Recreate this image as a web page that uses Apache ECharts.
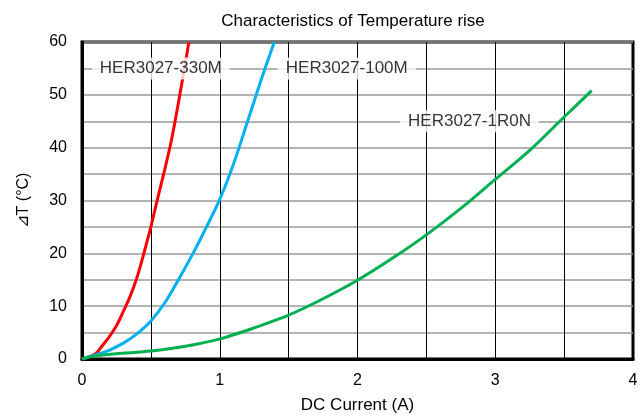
<!DOCTYPE html>
<html>
<head>
<meta charset="utf-8">
<script src="https://cdn.jsdelivr.net/npm/echarts@6/dist/echarts.min.js"></script>
<style>
html,body{margin:0;padding:0;background:#fff;}
#chart{width:644px;height:419px;}
</style>
</head>
<body>
<div id="chart"></div>
<script>
// Data: [current A, temperature rise °C]
const red330M = [[0,0],[0.05,0.4],[0.1,1.0],[0.15,2.6],[0.2,4.3],[0.25,6.3],[0.3,9.0],[0.35,11.9],[0.4,15.5],[0.45,20.1],[0.5,25],[0.55,30.5],[0.6,35.8],[0.65,41.5],[0.7,48.5],[0.75,56],[0.776,60]];
const blue100M = [[0,0],[0.1,0.8],[0.2,1.7],[0.3,3.0],[0.4,4.8],[0.5,7.2],[0.6,10.6],[0.7,15.0],[0.8,19.7],[0.9,24.8],[1.0,30.2],[1.1,36.9],[1.2,44.8],[1.3,52.8],[1.396,60]];
const green1R0N = [[0,0],[0.05,0.35],[0.1,0.6],[0.25,1.0],[0.5,1.5],[0.75,2.4],[1,3.8],[1.25,5.9],[1.5,8.3],[1.75,11.4],[2,14.9],[2.25,19],[2.5,23.5],[2.75,28.5],[3,34],[3.25,39.5],[3.5,45.8],[3.7,50.8]];
const seriesNames = ['HER3027-330M','HER3027-100M','HER3027-1R0N'];
const labelX = [0.572, 1.922, 2.813];
const labelY = [55, 55, 45];
const titleText = 'Characteristics of Temperature rise';
const xName = 'DC Current (A)';
const yName = '⊿T (°C)';

const font = 'Liberation Sans, Arial, sans-serif';
const chart = echarts.init(document.getElementById('chart'));
chart.setOption({
  animation: false,
  backgroundColor: '#fff',
  title: {
    text: titleText, left: 348, textAlign: 'center', top: 8,
    textStyle: {fontFamily: font, fontSize: 17, fontWeight: 'normal', color: '#000'}
  },
  grid: {left: 82, right: 11, top: 42, bottom: 54, show: true, borderColor: '#000', borderWidth: 3, backgroundColor: 'transparent'},
  xAxis: {
    type: 'value', min: 0, max: 4, interval: 0.5,
    name: xName, nameLocation: 'middle', nameGap: 38,
    nameTextStyle: {fontFamily: font, fontSize: 17, color: '#000'},
    axisLine: {show: true, lineStyle: {color: '#000', width: 3}},
    axisTick: {show: false},
    axisLabel: {margin: 14, fontFamily: font, fontSize: 16, color: '#000',
      formatter: v => (Math.abs(v - Math.round(v)) < 1e-9 ? String(Math.round(v)) : '')},
    splitLine: {show: true, lineStyle: {color: '#000', width: 1}}
  },
  yAxis: {
    type: 'value', min: 0, max: 60, interval: 5,
    name: yName, nameLocation: 'middle', nameGap: 50, nameRotate: 90,
    nameTextStyle: {fontFamily: font, fontSize: 16, color: '#000'},
    axisLine: {show: true, lineStyle: {color: '#000', width: 3}},
    axisTick: {show: false},
    axisLabel: {margin: 15, fontFamily: font, fontSize: 16, color: '#000',
      formatter: v => (v % 10 === 0 ? String(v) : '')},
    splitLine: {show: true, lineStyle: {color: '#9a9a9a', width: 1.5}}
  },
  series: [
    {type: 'line', data: red330M, smooth: 0.3, symbol: 'none', lineStyle: {color: '#ff0000', width: 3}, z: 3},
    {type: 'line', data: blue100M, smooth: 0.3, symbol: 'none', lineStyle: {color: '#00b0f0', width: 3}, z: 3},
    {type: 'line', data: green1R0N, smooth: 0.3, symbol: 'none', lineStyle: {color: '#00b050', width: 3}, z: 3},
    {type: 'scatter', symbolSize: 1, itemStyle: {color: 'rgba(0,0,0,0)'}, z: 10, silent: true,
     data: seriesNames.map((n, i) => ({value: [labelX[i], labelY[i]], name: n})),
     label: {show: true, position: 'inside', formatter: p => p.name, fontFamily: font, fontSize: 17, color: '#000',
       backgroundColor: '#fff', padding: [3, 8, 2, 8]}}
  ]
});
</script>
</body>
</html>
